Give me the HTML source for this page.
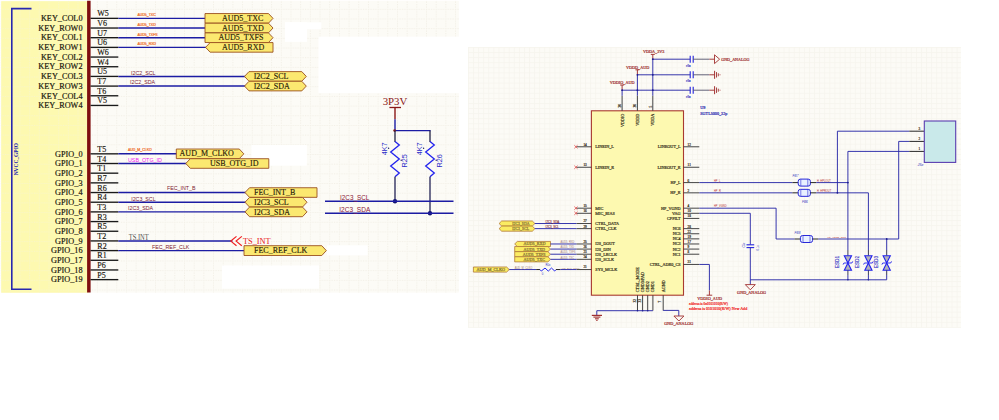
<!DOCTYPE html>
<html><head><meta charset="utf-8"><title>schematic</title>
<style>html,body{margin:0;padding:0;background:#fff;}body{width:999px;height:420px;overflow:hidden;font-family:"Liberation Sans",sans-serif;}svg{display:block;}text{white-space:pre;}</style>
</head><body>
<svg width="999" height="420" viewBox="0 0 999 420">
<rect x="0" y="0" width="999" height="420" fill="#ffffff"/>
<defs>
<pattern id="g1" x="0.1" y="8.8" width="9.68" height="9.68" patternUnits="userSpaceOnUse"><path d="M0 0.5H9.68M0.5 0V9.68" stroke="#F2EFE6" stroke-width="1" stroke-dasharray="1.2 1.2" fill="none"/></pattern>
<pattern id="g2" x="468" y="47" width="5.09" height="5.09" patternUnits="userSpaceOnUse"><path d="M0 0.5H5.09M0.5 0V5.09" stroke="#F7F4EE" stroke-width="0.8" fill="none"/></pattern>
</defs>
<rect x="0.80" y="0.80" width="458.00" height="291.80" fill="#FCFBF6" stroke="none" stroke-width="0"/>
<rect x="0.80" y="0.80" width="458.00" height="291.80" fill="url(#g1)" stroke="none" stroke-width="0"/>
<rect x="318.50" y="36.60" width="141.00" height="56.60" fill="#fff" stroke="none" stroke-width="0"/>
<rect x="285.00" y="22.30" width="36.30" height="7.00" fill="#fff" stroke="none" stroke-width="0"/>
<rect x="285.00" y="22.30" width="22.00" height="19.50" fill="#fff" stroke="none" stroke-width="0"/>
<rect x="251.40" y="145.10" width="55.40" height="13.80" fill="#fff" stroke="none" stroke-width="0"/>
<rect x="268.00" y="158.00" width="38.80" height="7.70" fill="#fff" stroke="none" stroke-width="0"/>
<rect x="327.00" y="245.30" width="40.60" height="10.00" fill="#fff" stroke="none" stroke-width="0"/>
<rect x="222.00" y="265.50" width="97.00" height="23.20" fill="#fff" stroke="none" stroke-width="0"/>
<rect x="468.00" y="47.00" width="493.00" height="280.80" fill="#FCFBF6" stroke="none" stroke-width="0"/>
<rect x="468.00" y="47.00" width="493.00" height="280.80" fill="url(#g2)" stroke="none" stroke-width="0"/>
<rect x="1.30" y="1.30" width="87.00" height="291.30" fill="#FDF9B0" stroke="none" stroke-width="0"/>
<rect x="1.30" y="1.30" width="87.00" height="291.30" fill="url(#g1)" stroke="none" stroke-width="0"/>
<rect x="1.3" y="1.3" width="87" height="291.3" fill="#FDF9B0" opacity="0.55"/>
<line x1="88.85" y1="0.80" x2="88.85" y2="292.60" stroke="#7E0F0F" stroke-width="3.5" />
<polyline points="31.5,8.6 11.8,8.6 11.8,289.3 31.5,289.3" fill="none" stroke="#2828B0" stroke-width="1.6"/>
<text x="17.60" y="175.30" font-family="Liberation Serif" font-size="5.8" fill="#2020B0" text-anchor="start" transform="rotate(-90 17.60 175.30)" textLength="32.30" lengthAdjust="spacingAndGlyphs" font-weight="bold">NVCC_GPIO</text>
<line x1="90.50" y1="18.35" x2="118.30" y2="18.35" stroke="#1a1a1a" stroke-width="1.35" />
<text x="82.50" y="21.10" font-family="Liberation Serif" font-size="8.22" fill="#17140a" text-anchor="end"  stroke="#17140a" stroke-width="0.18">KEY_COL0</text>
<text x="97.30" y="16.35" font-family="Liberation Serif" font-size="8.0" fill="#17140a" text-anchor="start"  stroke="#17140a" stroke-width="0.15">W5</text>
<line x1="90.50" y1="28.03" x2="118.30" y2="28.03" stroke="#1a1a1a" stroke-width="1.35" />
<text x="82.50" y="30.78" font-family="Liberation Serif" font-size="8.22" fill="#17140a" text-anchor="end"  stroke="#17140a" stroke-width="0.18">KEY_ROW0</text>
<text x="97.30" y="26.03" font-family="Liberation Serif" font-size="8.0" fill="#17140a" text-anchor="start"  stroke="#17140a" stroke-width="0.15">V6</text>
<line x1="90.50" y1="37.70" x2="118.30" y2="37.70" stroke="#1a1a1a" stroke-width="1.35" />
<text x="82.50" y="40.45" font-family="Liberation Serif" font-size="8.22" fill="#17140a" text-anchor="end"  stroke="#17140a" stroke-width="0.18">KEY_COL1</text>
<text x="97.30" y="35.70" font-family="Liberation Serif" font-size="8.0" fill="#17140a" text-anchor="start"  stroke="#17140a" stroke-width="0.15">U7</text>
<line x1="90.50" y1="47.38" x2="118.30" y2="47.38" stroke="#1a1a1a" stroke-width="1.35" />
<text x="82.50" y="50.13" font-family="Liberation Serif" font-size="8.22" fill="#17140a" text-anchor="end"  stroke="#17140a" stroke-width="0.18">KEY_ROW1</text>
<text x="97.30" y="45.38" font-family="Liberation Serif" font-size="8.0" fill="#17140a" text-anchor="start"  stroke="#17140a" stroke-width="0.15">U6</text>
<line x1="90.50" y1="57.06" x2="118.30" y2="57.06" stroke="#1a1a1a" stroke-width="1.35" />
<text x="82.50" y="59.81" font-family="Liberation Serif" font-size="8.22" fill="#17140a" text-anchor="end"  stroke="#17140a" stroke-width="0.18">KEY_COL2</text>
<text x="97.30" y="55.06" font-family="Liberation Serif" font-size="8.0" fill="#17140a" text-anchor="start"  stroke="#17140a" stroke-width="0.15">W6</text>
<line x1="90.50" y1="66.73" x2="118.30" y2="66.73" stroke="#1a1a1a" stroke-width="1.35" />
<text x="82.50" y="69.48" font-family="Liberation Serif" font-size="8.22" fill="#17140a" text-anchor="end"  stroke="#17140a" stroke-width="0.18">KEY_ROW2</text>
<text x="97.30" y="64.73" font-family="Liberation Serif" font-size="8.0" fill="#17140a" text-anchor="start"  stroke="#17140a" stroke-width="0.15">W4</text>
<line x1="90.50" y1="76.41" x2="118.30" y2="76.41" stroke="#1a1a1a" stroke-width="1.35" />
<text x="82.50" y="79.16" font-family="Liberation Serif" font-size="8.22" fill="#17140a" text-anchor="end"  stroke="#17140a" stroke-width="0.18">KEY_COL3</text>
<text x="97.30" y="74.41" font-family="Liberation Serif" font-size="8.0" fill="#17140a" text-anchor="start"  stroke="#17140a" stroke-width="0.15">U5</text>
<line x1="90.50" y1="86.09" x2="118.30" y2="86.09" stroke="#1a1a1a" stroke-width="1.35" />
<text x="82.50" y="88.84" font-family="Liberation Serif" font-size="8.22" fill="#17140a" text-anchor="end"  stroke="#17140a" stroke-width="0.18">KEY_ROW3</text>
<text x="97.30" y="84.09" font-family="Liberation Serif" font-size="8.0" fill="#17140a" text-anchor="start"  stroke="#17140a" stroke-width="0.15">T7</text>
<line x1="90.50" y1="95.77" x2="118.30" y2="95.77" stroke="#1a1a1a" stroke-width="1.35" />
<text x="82.50" y="98.52" font-family="Liberation Serif" font-size="8.22" fill="#17140a" text-anchor="end"  stroke="#17140a" stroke-width="0.18">KEY_COL4</text>
<text x="97.30" y="93.77" font-family="Liberation Serif" font-size="8.0" fill="#17140a" text-anchor="start"  stroke="#17140a" stroke-width="0.15">T6</text>
<line x1="90.50" y1="105.44" x2="118.30" y2="105.44" stroke="#1a1a1a" stroke-width="1.35" />
<text x="82.50" y="108.19" font-family="Liberation Serif" font-size="8.22" fill="#17140a" text-anchor="end"  stroke="#17140a" stroke-width="0.18">KEY_ROW4</text>
<text x="97.30" y="103.44" font-family="Liberation Serif" font-size="8.0" fill="#17140a" text-anchor="start"  stroke="#17140a" stroke-width="0.15">V5</text>
<line x1="90.50" y1="153.83" x2="118.30" y2="153.83" stroke="#1a1a1a" stroke-width="1.35" />
<text x="82.50" y="156.58" font-family="Liberation Serif" font-size="8.22" fill="#17140a" text-anchor="end"  stroke="#17140a" stroke-width="0.18">GPIO_0</text>
<text x="97.30" y="151.83" font-family="Liberation Serif" font-size="8.0" fill="#17140a" text-anchor="start"  stroke="#17140a" stroke-width="0.15">T5</text>
<line x1="90.50" y1="163.51" x2="118.30" y2="163.51" stroke="#1a1a1a" stroke-width="1.35" />
<text x="82.50" y="166.26" font-family="Liberation Serif" font-size="8.22" fill="#17140a" text-anchor="end"  stroke="#17140a" stroke-width="0.18">GPIO_1</text>
<text x="97.30" y="161.51" font-family="Liberation Serif" font-size="8.0" fill="#17140a" text-anchor="start"  stroke="#17140a" stroke-width="0.15">T4</text>
<line x1="90.50" y1="173.18" x2="118.30" y2="173.18" stroke="#1a1a1a" stroke-width="1.35" />
<text x="82.50" y="175.93" font-family="Liberation Serif" font-size="8.22" fill="#17140a" text-anchor="end"  stroke="#17140a" stroke-width="0.18">GPIO_2</text>
<text x="97.30" y="171.18" font-family="Liberation Serif" font-size="8.0" fill="#17140a" text-anchor="start"  stroke="#17140a" stroke-width="0.15">T1</text>
<line x1="90.50" y1="182.86" x2="118.30" y2="182.86" stroke="#1a1a1a" stroke-width="1.35" />
<text x="82.50" y="185.61" font-family="Liberation Serif" font-size="8.22" fill="#17140a" text-anchor="end"  stroke="#17140a" stroke-width="0.18">GPIO_3</text>
<text x="97.30" y="180.86" font-family="Liberation Serif" font-size="8.0" fill="#17140a" text-anchor="start"  stroke="#17140a" stroke-width="0.15">R7</text>
<line x1="90.50" y1="192.54" x2="118.30" y2="192.54" stroke="#1a1a1a" stroke-width="1.35" />
<text x="82.50" y="195.29" font-family="Liberation Serif" font-size="8.22" fill="#17140a" text-anchor="end"  stroke="#17140a" stroke-width="0.18">GPIO_4</text>
<text x="97.30" y="190.54" font-family="Liberation Serif" font-size="8.0" fill="#17140a" text-anchor="start"  stroke="#17140a" stroke-width="0.15">R6</text>
<line x1="90.50" y1="202.22" x2="118.30" y2="202.22" stroke="#1a1a1a" stroke-width="1.35" />
<text x="82.50" y="204.97" font-family="Liberation Serif" font-size="8.22" fill="#17140a" text-anchor="end"  stroke="#17140a" stroke-width="0.18">GPIO_5</text>
<text x="97.30" y="200.22" font-family="Liberation Serif" font-size="8.0" fill="#17140a" text-anchor="start"  stroke="#17140a" stroke-width="0.15">R4</text>
<line x1="90.50" y1="211.89" x2="118.30" y2="211.89" stroke="#1a1a1a" stroke-width="1.35" />
<text x="82.50" y="214.64" font-family="Liberation Serif" font-size="8.22" fill="#17140a" text-anchor="end"  stroke="#17140a" stroke-width="0.18">GPIO_6</text>
<text x="97.30" y="209.89" font-family="Liberation Serif" font-size="8.0" fill="#17140a" text-anchor="start"  stroke="#17140a" stroke-width="0.15">T3</text>
<line x1="90.50" y1="221.57" x2="118.30" y2="221.57" stroke="#1a1a1a" stroke-width="1.35" />
<text x="82.50" y="224.32" font-family="Liberation Serif" font-size="8.22" fill="#17140a" text-anchor="end"  stroke="#17140a" stroke-width="0.18">GPIO_7</text>
<text x="97.30" y="219.57" font-family="Liberation Serif" font-size="8.0" fill="#17140a" text-anchor="start"  stroke="#17140a" stroke-width="0.15">R3</text>
<line x1="90.50" y1="231.25" x2="118.30" y2="231.25" stroke="#1a1a1a" stroke-width="1.35" />
<text x="82.50" y="234.00" font-family="Liberation Serif" font-size="8.22" fill="#17140a" text-anchor="end"  stroke="#17140a" stroke-width="0.18">GPIO_8</text>
<text x="97.30" y="229.25" font-family="Liberation Serif" font-size="8.0" fill="#17140a" text-anchor="start"  stroke="#17140a" stroke-width="0.15">R5</text>
<line x1="90.50" y1="240.92" x2="118.30" y2="240.92" stroke="#1a1a1a" stroke-width="1.35" />
<text x="82.50" y="243.67" font-family="Liberation Serif" font-size="8.22" fill="#17140a" text-anchor="end"  stroke="#17140a" stroke-width="0.18">GPIO_9</text>
<text x="97.30" y="238.92" font-family="Liberation Serif" font-size="8.0" fill="#17140a" text-anchor="start"  stroke="#17140a" stroke-width="0.15">T2</text>
<line x1="90.50" y1="250.60" x2="118.30" y2="250.60" stroke="#1a1a1a" stroke-width="1.35" />
<text x="82.50" y="253.35" font-family="Liberation Serif" font-size="8.22" fill="#17140a" text-anchor="end"  stroke="#17140a" stroke-width="0.18">GPIO_16</text>
<text x="97.30" y="248.60" font-family="Liberation Serif" font-size="8.0" fill="#17140a" text-anchor="start"  stroke="#17140a" stroke-width="0.15">R2</text>
<line x1="90.50" y1="260.28" x2="118.30" y2="260.28" stroke="#1a1a1a" stroke-width="1.35" />
<text x="82.50" y="263.03" font-family="Liberation Serif" font-size="8.22" fill="#17140a" text-anchor="end"  stroke="#17140a" stroke-width="0.18">GPIO_17</text>
<text x="97.30" y="258.28" font-family="Liberation Serif" font-size="8.0" fill="#17140a" text-anchor="start"  stroke="#17140a" stroke-width="0.15">R1</text>
<line x1="90.50" y1="269.95" x2="118.30" y2="269.95" stroke="#1a1a1a" stroke-width="1.35" />
<text x="82.50" y="272.70" font-family="Liberation Serif" font-size="8.22" fill="#17140a" text-anchor="end"  stroke="#17140a" stroke-width="0.18">GPIO_18</text>
<text x="97.30" y="267.95" font-family="Liberation Serif" font-size="8.0" fill="#17140a" text-anchor="start"  stroke="#17140a" stroke-width="0.15">P6</text>
<line x1="90.50" y1="279.63" x2="118.30" y2="279.63" stroke="#1a1a1a" stroke-width="1.35" />
<text x="82.50" y="282.38" font-family="Liberation Serif" font-size="8.22" fill="#17140a" text-anchor="end"  stroke="#17140a" stroke-width="0.18">GPIO_19</text>
<text x="97.30" y="277.63" font-family="Liberation Serif" font-size="8.0" fill="#17140a" text-anchor="start"  stroke="#17140a" stroke-width="0.15">P5</text>
<line x1="118.30" y1="18.35" x2="206.00" y2="18.35" stroke="#1C1CA4" stroke-width="1.45" />
<line x1="118.30" y1="28.03" x2="206.00" y2="28.03" stroke="#1C1CA4" stroke-width="1.45" />
<line x1="118.30" y1="37.70" x2="206.00" y2="37.70" stroke="#1C1CA4" stroke-width="1.45" />
<line x1="118.30" y1="47.38" x2="206.00" y2="47.38" stroke="#1C1CA4" stroke-width="1.45" />
<line x1="118.30" y1="76.41" x2="246.00" y2="76.41" stroke="#1C1CA4" stroke-width="1.45" />
<line x1="118.30" y1="86.09" x2="246.00" y2="86.09" stroke="#1C1CA4" stroke-width="1.45" />
<line x1="118.30" y1="153.83" x2="177.00" y2="153.83" stroke="#1C1CA4" stroke-width="1.45" />
<line x1="118.30" y1="163.51" x2="187.00" y2="163.51" stroke="#1C1CA4" stroke-width="1.45" />
<line x1="118.30" y1="192.54" x2="246.00" y2="192.54" stroke="#1C1CA4" stroke-width="1.45" />
<line x1="118.30" y1="202.22" x2="246.00" y2="202.22" stroke="#1C1CA4" stroke-width="1.45" />
<line x1="118.30" y1="211.89" x2="246.00" y2="211.89" stroke="#1C1CA4" stroke-width="1.45" />
<line x1="118.30" y1="240.92" x2="232.50" y2="240.92" stroke="#1C1CA4" stroke-width="1.45" />
<line x1="118.30" y1="250.60" x2="245.00" y2="250.60" stroke="#1C1CA4" stroke-width="1.45" />
<polygon points="205.00,13.55 268.50,13.55 273.00,18.35 268.50,23.15 205.00,23.15" fill="#FBE870" stroke="#9A5020" stroke-width="0.9" stroke-linejoin="miter"/>
<text x="222.00" y="20.99" font-family="Liberation Serif" font-size="8" fill="#2a1c08" text-anchor="start"  stroke="#2a1c08" stroke-width="0.15">AUD5_TXC</text>
<polygon points="205.00,23.23 268.50,23.23 273.00,28.03 268.50,32.83 205.00,32.83" fill="#FBE870" stroke="#9A5020" stroke-width="0.9" stroke-linejoin="miter"/>
<text x="222.00" y="30.67" font-family="Liberation Serif" font-size="8" fill="#2a1c08" text-anchor="start"  stroke="#2a1c08" stroke-width="0.15">AUD5_TXD</text>
<polygon points="205.00,32.90 268.50,32.90 273.00,37.70 268.50,42.50 205.00,42.50" fill="#FBE870" stroke="#9A5020" stroke-width="0.9" stroke-linejoin="miter"/>
<text x="218.50" y="40.34" font-family="Liberation Serif" font-size="8" fill="#2a1c08" text-anchor="start"  stroke="#2a1c08" stroke-width="0.15">AUD5_TXFS</text>
<polygon points="205.60,47.38 210.10,42.58 273.00,42.58 273.00,52.18 210.10,52.18" fill="#FBE870" stroke="#9A5020" stroke-width="0.9" stroke-linejoin="miter"/>
<text x="222.00" y="50.02" font-family="Liberation Serif" font-size="8" fill="#2a1c08" text-anchor="start"  stroke="#2a1c08" stroke-width="0.15">AUD5_RXD</text>
<polygon points="244.50,76.41 249.00,71.61 301.80,71.61 306.30,76.41 301.80,81.21 249.00,81.21" fill="#FBE870" stroke="#9A5020" stroke-width="0.9" stroke-linejoin="miter"/>
<text x="253.70" y="79.05" font-family="Liberation Serif" font-size="8" fill="#2a1c08" text-anchor="start"  stroke="#2a1c08" stroke-width="0.15">I2C2_SCL</text>
<polygon points="244.50,86.09 249.00,81.29 301.80,81.29 306.30,86.09 301.80,90.89 249.00,90.89" fill="#FBE870" stroke="#9A5020" stroke-width="0.9" stroke-linejoin="miter"/>
<text x="253.70" y="88.73" font-family="Liberation Serif" font-size="8" fill="#2a1c08" text-anchor="start"  stroke="#2a1c08" stroke-width="0.15">I2C2_SDA</text>
<polygon points="176.30,149.03 239.30,149.03 243.80,153.83 239.30,158.63 176.30,158.63" fill="#FBE870" stroke="#9A5020" stroke-width="0.9" stroke-linejoin="miter"/>
<text x="179.60" y="156.47" font-family="Liberation Serif" font-size="8" fill="#2a1c08" text-anchor="start"  stroke="#2a1c08" stroke-width="0.15">AUD_M_CLKO</text>
<polygon points="185.80,163.51 190.30,158.71 268.80,158.71 268.80,168.31 190.30,168.31" fill="#FBE870" stroke="#9A5020" stroke-width="0.9" stroke-linejoin="miter"/>
<text x="210.00" y="166.15" font-family="Liberation Serif" font-size="8" fill="#2a1c08" text-anchor="start"  stroke="#2a1c08" stroke-width="0.15">USB_OTG_ID</text>
<polygon points="245.00,192.54 249.50,187.74 317.00,187.74 317.00,197.34 249.50,197.34" fill="#FBE870" stroke="#9A5020" stroke-width="0.9" stroke-linejoin="miter"/>
<text x="254.00" y="195.18" font-family="Liberation Serif" font-size="8" fill="#2a1c08" text-anchor="start"  stroke="#2a1c08" stroke-width="0.15">FEC_INT_B</text>
<polygon points="245.00,202.22 249.50,197.41 302.50,197.41 307.00,202.22 302.50,207.02 249.50,207.02" fill="#FBE870" stroke="#9A5020" stroke-width="0.9" stroke-linejoin="miter"/>
<text x="254.00" y="204.85" font-family="Liberation Serif" font-size="8" fill="#2a1c08" text-anchor="start"  stroke="#2a1c08" stroke-width="0.15">I2C3_SCL</text>
<polygon points="245.00,211.89 249.50,207.09 302.50,207.09 307.00,211.89 302.50,216.69 249.50,216.69" fill="#FBE870" stroke="#9A5020" stroke-width="0.9" stroke-linejoin="miter"/>
<text x="254.00" y="214.53" font-family="Liberation Serif" font-size="8" fill="#2a1c08" text-anchor="start"  stroke="#2a1c08" stroke-width="0.15">I2C3_SDA</text>
<polygon points="244.00,245.70 321.80,245.70 326.30,250.60 321.80,255.50 244.00,255.50" fill="#FBE870" stroke="#9A5020" stroke-width="0.9" stroke-linejoin="miter"/>
<text x="254.00" y="253.24" font-family="Liberation Serif" font-size="8" fill="#2a1c08" text-anchor="start"  stroke="#2a1c08" stroke-width="0.15">FEC_REF_CLK</text>
<text x="137.40" y="16.15" font-family="Liberation Sans" font-size="3.5" fill="#EE6820" text-anchor="start"  stroke="#EE6820" stroke-width="0.18">AUD5_TXC</text>
<text x="137.40" y="25.83" font-family="Liberation Sans" font-size="3.5" fill="#EE6820" text-anchor="start"  stroke="#EE6820" stroke-width="0.18">AUD5_TXD</text>
<text x="137.40" y="35.50" font-family="Liberation Sans" font-size="3.5" fill="#EE6820" text-anchor="start"  stroke="#EE6820" stroke-width="0.18">AUD5_TXFS</text>
<text x="137.40" y="45.18" font-family="Liberation Sans" font-size="3.5" fill="#EE6820" text-anchor="start"  stroke="#EE6820" stroke-width="0.18">AUD5_RXD</text>
<text x="131.00" y="75.21" font-family="Liberation Sans" font-size="5.3" fill="#7E1A30" text-anchor="start" >I2C2_SCL</text>
<text x="130.00" y="84.49" font-family="Liberation Sans" font-size="5.3" fill="#7E1A30" text-anchor="start" >I2C2_SDA</text>
<text x="128.00" y="151.43" font-family="Liberation Sans" font-size="3.5" fill="#EE6820" text-anchor="start"  stroke="#EE6820" stroke-width="0.18">AUD_M_CLKO</text>
<text x="128.00" y="161.91" font-family="Liberation Sans" font-size="5.35" fill="#F020F0" text-anchor="start" >USB_OTG_ID</text>
<text x="167.00" y="190.44" font-family="Liberation Sans" font-size="5.3" fill="#7E1A30" text-anchor="start" >FEC_INT_B</text>
<text x="131.20" y="201.02" font-family="Liberation Sans" font-size="5.3" fill="#7E1A30" text-anchor="start" >I2C3_SCL</text>
<text x="128.00" y="210.29" font-family="Liberation Sans" font-size="5.3" fill="#7E1A30" text-anchor="start" >I2C3_SDA</text>
<text x="152.00" y="248.60" font-family="Liberation Sans" font-size="5.3" fill="#7E1A30" text-anchor="start" >FEC_REF_CLK</text>
<text x="128.70" y="239.50" font-family="Liberation Serif" font-size="8.6" fill="#505050" text-anchor="start" textLength="20.00" lengthAdjust="spacingAndGlyphs" >TS.INT</text>
<polyline points="236.5,236.4 230.8,241.1 236.5,245.8" fill="none" stroke="#F02020" stroke-width="1.2"/>
<polyline points="241.8,236.4 236.1,241.1 241.8,245.8" fill="none" stroke="#F02020" stroke-width="1.2"/>
<text x="243.00" y="244.30" font-family="Liberation Serif" font-size="8.3" fill="#E81818" text-anchor="start" >TS_INT</text>
<text x="382.70" y="104.60" font-family="Liberation Serif" font-size="10.8" fill="#8A1818" text-anchor="start" >3P3V</text>
<line x1="389.40" y1="107.50" x2="401.00" y2="107.50" stroke="#8A1818" stroke-width="1.3" />
<line x1="395.00" y1="107.50" x2="395.00" y2="119.20" stroke="#8A1818" stroke-width="1.4" />
<line x1="395.00" y1="119.20" x2="395.00" y2="130.60" stroke="#1C1CA4" stroke-width="1.4" />
<line x1="394.60" y1="130.60" x2="430.60" y2="130.60" stroke="#1C1CA4" stroke-width="1.4" />
<circle cx="394.60" cy="130.60" r="1.3" fill="#8A1818"/>
<line x1="395.00" y1="130.60" x2="395.00" y2="142.00" stroke="#222244" stroke-width="1.3" />
<polyline points="395,141.5 399.3,145 390.7,152 399.3,159 390.7,166 399.3,173 395,176.8" fill="none" stroke="#2222EE" stroke-width="1.3"/>
<line x1="395.00" y1="176.80" x2="395.00" y2="201.20" stroke="#222255" stroke-width="1.3" />
<circle cx="395.00" cy="201.20" r="2.2" fill="#141470"/>
<line x1="430.00" y1="130.60" x2="430.00" y2="142.00" stroke="#222244" stroke-width="1.3" />
<polyline points="430,141.5 434.3,145 425.7,152 434.3,159 425.7,166 434.3,173 430,176.8" fill="none" stroke="#2222EE" stroke-width="1.3"/>
<line x1="430.00" y1="176.80" x2="430.00" y2="213.30" stroke="#222255" stroke-width="1.3" />
<circle cx="430.00" cy="213.30" r="2.2" fill="#141470"/>
<line x1="325.00" y1="201.20" x2="453.50" y2="201.20" stroke="#1C1CA4" stroke-width="1.45" />
<line x1="325.00" y1="213.30" x2="453.50" y2="213.30" stroke="#1C1CA4" stroke-width="1.45" />
<text x="340.00" y="199.60" font-family="Liberation Sans" font-size="6.3" fill="#8A2038" text-anchor="start" textLength="29.30" lengthAdjust="spacingAndGlyphs" >I2C3_SCL</text>
<text x="339.30" y="211.50" font-family="Liberation Sans" font-size="6.3" fill="#8A2038" text-anchor="start" textLength="31.00" lengthAdjust="spacingAndGlyphs" >I2C3_SDA</text>
<text x="387.20" y="155.30" font-family="Liberation Sans" font-size="7.3" fill="#2A2AC8" text-anchor="start" transform="rotate(-90 387.20 155.30)" >4K7</text>
<text x="406.80" y="167.60" font-family="Liberation Sans" font-size="7.3" fill="#2A2AC8" text-anchor="start" transform="rotate(-90 406.80 167.60)" >R25</text>
<text x="422.20" y="155.30" font-family="Liberation Sans" font-size="7.3" fill="#2A2AC8" text-anchor="start" transform="rotate(-90 422.20 155.30)" >4K7</text>
<text x="441.80" y="167.60" font-family="Liberation Sans" font-size="7.3" fill="#2A2AC8" text-anchor="start" transform="rotate(-90 441.80 167.60)" >R26</text>
<circle cx="388.60" cy="148.20" r="0.7" fill="#202060"/>
<circle cx="401.20" cy="160.20" r="0.7" fill="#202060"/>
<circle cx="423.60" cy="148.20" r="0.7" fill="#202060"/>
<circle cx="436.20" cy="160.20" r="0.7" fill="#202060"/>
<rect x="591.40" y="110.80" width="92.10" height="184.40" fill="#FDF9B0" stroke="#A83A30" stroke-width="1.1"/>
<line x1="576.50" y1="146.79" x2="591.40" y2="146.79" stroke="#3a3a3a" stroke-width="0.95" />
<text x="595.30" y="148.24" font-family="Liberation Serif" font-size="4.2" fill="#3a3420" text-anchor="start"  stroke="#3a3420" stroke-width="0.2">LINEIN_L</text>
<text x="583.40" y="145.69" font-family="Liberation Serif" font-size="3.4" fill="#3a3420" text-anchor="start"  stroke="#3a3420" stroke-width="0.2">14</text>
<line x1="576.50" y1="167.25" x2="591.40" y2="167.25" stroke="#3a3a3a" stroke-width="0.95" />
<text x="595.30" y="168.70" font-family="Liberation Serif" font-size="4.2" fill="#3a3420" text-anchor="start"  stroke="#3a3420" stroke-width="0.2">LINEIN_R</text>
<text x="583.40" y="166.16" font-family="Liberation Serif" font-size="3.4" fill="#3a3420" text-anchor="start"  stroke="#3a3420" stroke-width="0.2">13</text>
<line x1="576.50" y1="208.18" x2="591.40" y2="208.18" stroke="#3a3a3a" stroke-width="0.95" />
<text x="595.30" y="209.62" font-family="Liberation Serif" font-size="4.2" fill="#3a3420" text-anchor="start"  stroke="#3a3420" stroke-width="0.2">MIC</text>
<text x="583.40" y="207.08" font-family="Liberation Serif" font-size="3.4" fill="#3a3420" text-anchor="start"  stroke="#3a3420" stroke-width="0.2">15</text>
<line x1="576.50" y1="213.29" x2="591.40" y2="213.29" stroke="#3a3a3a" stroke-width="0.95" />
<text x="595.30" y="214.74" font-family="Liberation Serif" font-size="4.2" fill="#3a3420" text-anchor="start"  stroke="#3a3420" stroke-width="0.2">MIC_BIAS</text>
<text x="583.40" y="212.19" font-family="Liberation Serif" font-size="3.4" fill="#3a3420" text-anchor="start"  stroke="#3a3420" stroke-width="0.2">16</text>
<line x1="576.50" y1="223.52" x2="591.40" y2="223.52" stroke="#3a3a3a" stroke-width="0.95" />
<text x="595.30" y="224.97" font-family="Liberation Serif" font-size="4.2" fill="#3a3420" text-anchor="start"  stroke="#3a3420" stroke-width="0.2">CTRL_DATA</text>
<text x="583.40" y="222.42" font-family="Liberation Serif" font-size="3.4" fill="#3a3420" text-anchor="start"  stroke="#3a3420" stroke-width="0.2">27</text>
<line x1="576.50" y1="228.63" x2="591.40" y2="228.63" stroke="#3a3a3a" stroke-width="0.95" />
<text x="595.30" y="230.08" font-family="Liberation Serif" font-size="4.2" fill="#3a3420" text-anchor="start"  stroke="#3a3420" stroke-width="0.2">CTRL_CLK</text>
<text x="583.40" y="227.53" font-family="Liberation Serif" font-size="3.4" fill="#3a3420" text-anchor="start"  stroke="#3a3420" stroke-width="0.2">29</text>
<line x1="576.50" y1="243.98" x2="591.40" y2="243.98" stroke="#3a3a3a" stroke-width="0.95" />
<text x="595.30" y="245.43" font-family="Liberation Serif" font-size="4.2" fill="#3a3420" text-anchor="start"  stroke="#3a3420" stroke-width="0.2">I2S_DOUT</text>
<text x="583.40" y="242.88" font-family="Liberation Serif" font-size="3.4" fill="#3a3420" text-anchor="start"  stroke="#3a3420" stroke-width="0.2">25</text>
<line x1="576.50" y1="249.09" x2="591.40" y2="249.09" stroke="#3a3a3a" stroke-width="0.95" />
<text x="595.30" y="250.54" font-family="Liberation Serif" font-size="4.2" fill="#3a3420" text-anchor="start"  stroke="#3a3420" stroke-width="0.2">I2S_DIN</text>
<text x="583.40" y="248.00" font-family="Liberation Serif" font-size="3.4" fill="#3a3420" text-anchor="start"  stroke="#3a3420" stroke-width="0.2">26</text>
<line x1="576.50" y1="254.21" x2="591.40" y2="254.21" stroke="#3a3a3a" stroke-width="0.95" />
<text x="595.30" y="255.66" font-family="Liberation Serif" font-size="4.2" fill="#3a3420" text-anchor="start"  stroke="#3a3420" stroke-width="0.2">I2S_LRCLK</text>
<text x="583.40" y="253.11" font-family="Liberation Serif" font-size="3.4" fill="#3a3420" text-anchor="start"  stroke="#3a3420" stroke-width="0.2">23</text>
<line x1="576.50" y1="259.32" x2="591.40" y2="259.32" stroke="#3a3a3a" stroke-width="0.95" />
<text x="595.30" y="260.77" font-family="Liberation Serif" font-size="4.2" fill="#3a3420" text-anchor="start"  stroke="#3a3420" stroke-width="0.2">I2S_SCLK</text>
<text x="583.40" y="258.22" font-family="Liberation Serif" font-size="3.4" fill="#3a3420" text-anchor="start"  stroke="#3a3420" stroke-width="0.2">24</text>
<line x1="576.50" y1="269.56" x2="591.40" y2="269.56" stroke="#3a3a3a" stroke-width="0.95" />
<text x="595.30" y="271.00" font-family="Liberation Serif" font-size="4.2" fill="#3a3420" text-anchor="start"  stroke="#3a3420" stroke-width="0.2">SYS_MCLK</text>
<text x="583.40" y="268.45" font-family="Liberation Serif" font-size="3.4" fill="#3a3420" text-anchor="start"  stroke="#3a3420" stroke-width="0.2">21</text>
<line x1="683.50" y1="146.79" x2="699.30" y2="146.79" stroke="#3a3a3a" stroke-width="0.95" />
<text x="680.60" y="148.24" font-family="Liberation Serif" font-size="4.2" fill="#3a3420" text-anchor="end"  stroke="#3a3420" stroke-width="0.2">LINEOUT_L</text>
<text x="687.60" y="145.69" font-family="Liberation Serif" font-size="3.4" fill="#3a3420" text-anchor="start"  stroke="#3a3420" stroke-width="0.2">12</text>
<line x1="683.50" y1="167.25" x2="699.30" y2="167.25" stroke="#3a3a3a" stroke-width="0.95" />
<text x="680.60" y="168.70" font-family="Liberation Serif" font-size="4.2" fill="#3a3420" text-anchor="end"  stroke="#3a3420" stroke-width="0.2">LINEOUT_R</text>
<text x="687.60" y="166.16" font-family="Liberation Serif" font-size="3.4" fill="#3a3420" text-anchor="start"  stroke="#3a3420" stroke-width="0.2">11</text>
<line x1="683.50" y1="182.60" x2="699.30" y2="182.60" stroke="#3a3a3a" stroke-width="0.95" />
<text x="680.60" y="184.05" font-family="Liberation Serif" font-size="4.2" fill="#3a3420" text-anchor="end"  stroke="#3a3420" stroke-width="0.2">HP_L</text>
<text x="687.60" y="181.50" font-family="Liberation Serif" font-size="3.4" fill="#3a3420" text-anchor="start"  stroke="#3a3420" stroke-width="0.2">6</text>
<line x1="683.50" y1="192.83" x2="699.30" y2="192.83" stroke="#3a3a3a" stroke-width="0.95" />
<text x="680.60" y="194.28" font-family="Liberation Serif" font-size="4.2" fill="#3a3420" text-anchor="end"  stroke="#3a3420" stroke-width="0.2">HP_R</text>
<text x="687.60" y="191.73" font-family="Liberation Serif" font-size="3.4" fill="#3a3420" text-anchor="start"  stroke="#3a3420" stroke-width="0.2">2</text>
<line x1="683.50" y1="208.18" x2="699.30" y2="208.18" stroke="#3a3a3a" stroke-width="0.95" />
<text x="680.60" y="209.62" font-family="Liberation Serif" font-size="4.2" fill="#3a3420" text-anchor="end"  stroke="#3a3420" stroke-width="0.2">HP_VGND</text>
<text x="687.60" y="207.08" font-family="Liberation Serif" font-size="3.4" fill="#3a3420" text-anchor="start"  stroke="#3a3420" stroke-width="0.2">4</text>
<line x1="683.50" y1="213.29" x2="699.30" y2="213.29" stroke="#3a3a3a" stroke-width="0.95" />
<text x="680.60" y="214.74" font-family="Liberation Serif" font-size="4.2" fill="#3a3420" text-anchor="end"  stroke="#3a3420" stroke-width="0.2">VAG</text>
<text x="687.60" y="212.19" font-family="Liberation Serif" font-size="3.4" fill="#3a3420" text-anchor="start"  stroke="#3a3420" stroke-width="0.2">10</text>
<line x1="683.50" y1="218.41" x2="699.30" y2="218.41" stroke="#3a3a3a" stroke-width="0.95" />
<text x="680.60" y="219.85" font-family="Liberation Serif" font-size="4.2" fill="#3a3420" text-anchor="end"  stroke="#3a3420" stroke-width="0.2">CPFILT</text>
<text x="687.60" y="217.31" font-family="Liberation Serif" font-size="3.4" fill="#3a3420" text-anchor="start"  stroke="#3a3420" stroke-width="0.2">18</text>
<line x1="683.50" y1="228.63" x2="699.30" y2="228.63" stroke="#3a3a3a" stroke-width="0.95" />
<text x="680.60" y="230.08" font-family="Liberation Serif" font-size="4.2" fill="#3a3420" text-anchor="end"  stroke="#3a3420" stroke-width="0.2">NC6</text>
<text x="687.60" y="227.53" font-family="Liberation Serif" font-size="3.4" fill="#3a3420" text-anchor="start"  stroke="#3a3420" stroke-width="0.2">28</text>
<line x1="683.50" y1="233.75" x2="699.30" y2="233.75" stroke="#3a3a3a" stroke-width="0.95" />
<text x="680.60" y="235.20" font-family="Liberation Serif" font-size="4.2" fill="#3a3420" text-anchor="end"  stroke="#3a3420" stroke-width="0.2">NC5</text>
<text x="687.60" y="232.65" font-family="Liberation Serif" font-size="3.4" fill="#3a3420" text-anchor="start"  stroke="#3a3420" stroke-width="0.2">22</text>
<line x1="683.50" y1="238.87" x2="699.30" y2="238.87" stroke="#3a3a3a" stroke-width="0.95" />
<text x="680.60" y="240.31" font-family="Liberation Serif" font-size="4.2" fill="#3a3420" text-anchor="end"  stroke="#3a3420" stroke-width="0.2">NC4</text>
<text x="687.60" y="237.77" font-family="Liberation Serif" font-size="3.4" fill="#3a3420" text-anchor="start"  stroke="#3a3420" stroke-width="0.2">19</text>
<line x1="683.50" y1="243.98" x2="699.30" y2="243.98" stroke="#3a3a3a" stroke-width="0.95" />
<text x="680.60" y="245.43" font-family="Liberation Serif" font-size="4.2" fill="#3a3420" text-anchor="end"  stroke="#3a3420" stroke-width="0.2">NC3</text>
<text x="687.60" y="242.88" font-family="Liberation Serif" font-size="3.4" fill="#3a3420" text-anchor="start"  stroke="#3a3420" stroke-width="0.2">17</text>
<line x1="683.50" y1="249.09" x2="699.30" y2="249.09" stroke="#3a3a3a" stroke-width="0.95" />
<text x="680.60" y="250.54" font-family="Liberation Serif" font-size="4.2" fill="#3a3420" text-anchor="end"  stroke="#3a3420" stroke-width="0.2">NC2</text>
<text x="687.60" y="248.00" font-family="Liberation Serif" font-size="3.4" fill="#3a3420" text-anchor="start"  stroke="#3a3420" stroke-width="0.2">9</text>
<line x1="683.50" y1="254.21" x2="699.30" y2="254.21" stroke="#3a3a3a" stroke-width="0.95" />
<text x="680.60" y="255.66" font-family="Liberation Serif" font-size="4.2" fill="#3a3420" text-anchor="end"  stroke="#3a3420" stroke-width="0.2">NC1</text>
<text x="687.60" y="253.11" font-family="Liberation Serif" font-size="3.4" fill="#3a3420" text-anchor="start"  stroke="#3a3420" stroke-width="0.2">8</text>
<line x1="683.50" y1="264.44" x2="699.30" y2="264.44" stroke="#3a3a3a" stroke-width="0.95" />
<text x="680.60" y="265.89" font-family="Liberation Serif" font-size="4.2" fill="#3a3420" text-anchor="end"  stroke="#3a3420" stroke-width="0.2">CTRL_ADR0_CS</text>
<text x="687.60" y="263.34" font-family="Liberation Serif" font-size="3.4" fill="#3a3420" text-anchor="start"  stroke="#3a3420" stroke-width="0.2">31</text>
<line x1="574.30" y1="145.19" x2="577.50" y2="148.39" stroke="#E03030" stroke-width="0.7" />
<line x1="574.30" y1="148.39" x2="577.50" y2="145.19" stroke="#E03030" stroke-width="0.7" />
<line x1="574.30" y1="165.66" x2="577.50" y2="168.85" stroke="#E03030" stroke-width="0.7" />
<line x1="574.30" y1="168.85" x2="577.50" y2="165.66" stroke="#E03030" stroke-width="0.7" />
<line x1="574.30" y1="206.58" x2="577.50" y2="209.78" stroke="#E03030" stroke-width="0.7" />
<line x1="574.30" y1="209.78" x2="577.50" y2="206.58" stroke="#E03030" stroke-width="0.7" />
<line x1="574.30" y1="211.69" x2="577.50" y2="214.89" stroke="#E03030" stroke-width="0.7" />
<line x1="574.30" y1="214.89" x2="577.50" y2="211.69" stroke="#E03030" stroke-width="0.7" />
<line x1="622.10" y1="110.80" x2="622.10" y2="95.70" stroke="#3a3a3a" stroke-width="0.95" />
<line x1="622.10" y1="95.70" x2="622.10" y2="90.20" stroke="#2A2AA8" stroke-width="0.95" />
<line x1="622.10" y1="90.20" x2="622.10" y2="85.00" stroke="#A03030" stroke-width="0.95" />
<line x1="620.10" y1="85.00" x2="624.10" y2="85.00" stroke="#A03030" stroke-width="0.95" />
<text x="609.80" y="84.00" font-family="Liberation Serif" font-size="4.2" fill="#A03030" text-anchor="start"  stroke="#A03030" stroke-width="0.2">VDDIO_AUD</text>
<text x="623.60" y="113.60" font-family="Liberation Serif" font-size="4.2" fill="#3a3420" text-anchor="end" transform="rotate(-90 623.60 113.60)"  stroke="#3a3420" stroke-width="0.2">VDDIO</text>
<text x="620.80" y="107.50" font-family="Liberation Serif" font-size="3.4" fill="#3a3420" text-anchor="start" transform="rotate(-90 620.80 107.50)"  stroke="#3a3420" stroke-width="0.2">20</text>
<line x1="622.10" y1="90.20" x2="690.20" y2="90.20" stroke="#2A2AA8" stroke-width="0.95" />
<line x1="690.20" y1="86.70" x2="690.20" y2="93.70" stroke="#2222DD" stroke-width="1.1" />
<line x1="693.20" y1="86.70" x2="693.20" y2="93.70" stroke="#2222DD" stroke-width="1.1" />
<line x1="693.20" y1="90.20" x2="709.40" y2="90.20" stroke="#50506a" stroke-width="0.9" />
<line x1="709.40" y1="90.20" x2="714.50" y2="90.20" stroke="#A03030" stroke-width="0.95" />
<text x="686.00" y="97.60" font-family="Liberation Serif" font-size="3.2" fill="#3030C0" text-anchor="start"  stroke="#3030C0" stroke-width="0.15">c5x</text>
<line x1="637.40" y1="110.80" x2="637.40" y2="95.70" stroke="#3a3a3a" stroke-width="0.95" />
<line x1="637.40" y1="95.70" x2="637.40" y2="74.80" stroke="#2A2AA8" stroke-width="0.95" />
<line x1="637.40" y1="74.80" x2="637.40" y2="69.80" stroke="#A03030" stroke-width="0.95" />
<line x1="635.40" y1="69.80" x2="639.40" y2="69.80" stroke="#A03030" stroke-width="0.95" />
<text x="626.00" y="68.80" font-family="Liberation Serif" font-size="4.2" fill="#A03030" text-anchor="start"  stroke="#A03030" stroke-width="0.2">VDDD_AUD</text>
<text x="638.90" y="113.60" font-family="Liberation Serif" font-size="4.2" fill="#3a3420" text-anchor="end" transform="rotate(-90 638.90 113.60)"  stroke="#3a3420" stroke-width="0.2">VDDD</text>
<text x="636.10" y="107.50" font-family="Liberation Serif" font-size="3.4" fill="#3a3420" text-anchor="start" transform="rotate(-90 636.10 107.50)"  stroke="#3a3420" stroke-width="0.2">30</text>
<line x1="637.40" y1="74.80" x2="690.20" y2="74.80" stroke="#2A2AA8" stroke-width="0.95" />
<line x1="690.20" y1="71.30" x2="690.20" y2="78.30" stroke="#2222DD" stroke-width="1.1" />
<line x1="693.20" y1="71.30" x2="693.20" y2="78.30" stroke="#2222DD" stroke-width="1.1" />
<line x1="693.20" y1="74.80" x2="709.40" y2="74.80" stroke="#50506a" stroke-width="0.9" />
<line x1="709.40" y1="74.80" x2="714.50" y2="74.80" stroke="#A03030" stroke-width="0.95" />
<text x="686.00" y="82.20" font-family="Liberation Serif" font-size="3.2" fill="#3030C0" text-anchor="start"  stroke="#3030C0" stroke-width="0.15">c5x</text>
<line x1="652.80" y1="110.80" x2="652.80" y2="95.70" stroke="#3a3a3a" stroke-width="0.95" />
<line x1="652.80" y1="95.70" x2="652.80" y2="59.20" stroke="#2A2AA8" stroke-width="0.95" />
<line x1="652.80" y1="59.20" x2="652.80" y2="54.40" stroke="#A03030" stroke-width="0.95" />
<line x1="650.80" y1="54.40" x2="654.80" y2="54.40" stroke="#A03030" stroke-width="0.95" />
<text x="643.00" y="53.40" font-family="Liberation Serif" font-size="4.2" fill="#A03030" text-anchor="start"  stroke="#A03030" stroke-width="0.2">VDDA_3V3</text>
<text x="654.30" y="113.60" font-family="Liberation Serif" font-size="4.2" fill="#3a3420" text-anchor="end" transform="rotate(-90 654.30 113.60)"  stroke="#3a3420" stroke-width="0.2">VDDA</text>
<text x="651.50" y="107.50" font-family="Liberation Serif" font-size="3.4" fill="#3a3420" text-anchor="start" transform="rotate(-90 651.50 107.50)"  stroke="#3a3420" stroke-width="0.2">5</text>
<line x1="652.80" y1="59.20" x2="690.20" y2="59.20" stroke="#2A2AA8" stroke-width="0.95" />
<line x1="690.20" y1="55.70" x2="690.20" y2="62.70" stroke="#2222DD" stroke-width="1.1" />
<line x1="693.20" y1="55.70" x2="693.20" y2="62.70" stroke="#2222DD" stroke-width="1.1" />
<line x1="693.20" y1="59.20" x2="709.40" y2="59.20" stroke="#50506a" stroke-width="0.9" />
<line x1="709.40" y1="59.20" x2="714.50" y2="59.20" stroke="#A03030" stroke-width="0.95" />
<text x="686.00" y="66.60" font-family="Liberation Serif" font-size="3.2" fill="#3030C0" text-anchor="start"  stroke="#3030C0" stroke-width="0.15">c5x</text>
<circle cx="652.80" cy="74.80" r="0.9" fill="#1a1a90"/>
<circle cx="652.80" cy="90.20" r="0.9" fill="#1a1a90"/>
<circle cx="637.40" cy="90.20" r="0.9" fill="#1a1a90"/>
<circle cx="652.80" cy="59.20" r="0.9" fill="#1a1a90"/>
<circle cx="637.40" cy="74.80" r="0.9" fill="#1a1a90"/>
<circle cx="622.10" cy="90.20" r="0.9" fill="#1a1a90"/>
<polygon points="714.50,54.80 719.60,59.20 714.50,63.60" fill="none" stroke="#A03030" stroke-width="0.9" stroke-linejoin="miter"/>
<text x="721.20" y="60.60" font-family="Liberation Serif" font-size="4.2" fill="#A03030" text-anchor="start" textLength="28.30" lengthAdjust="spacingAndGlyphs"  stroke="#A03030" stroke-width="0.2">GND_ANALOG</text>
<line x1="714.60" y1="70.80" x2="714.60" y2="78.80" stroke="#A03030" stroke-width="1.0" />
<line x1="716.50" y1="72.10" x2="716.50" y2="77.50" stroke="#A03030" stroke-width="0.9" />
<line x1="718.30" y1="73.30" x2="718.30" y2="76.30" stroke="#A03030" stroke-width="0.9" />
<line x1="720.00" y1="74.30" x2="720.00" y2="75.30" stroke="#A03030" stroke-width="0.8" />
<line x1="714.60" y1="86.20" x2="714.60" y2="94.20" stroke="#A03030" stroke-width="1.0" />
<line x1="716.50" y1="87.50" x2="716.50" y2="92.90" stroke="#A03030" stroke-width="0.9" />
<line x1="718.30" y1="88.70" x2="718.30" y2="91.70" stroke="#A03030" stroke-width="0.9" />
<line x1="720.00" y1="89.70" x2="720.00" y2="90.70" stroke="#A03030" stroke-width="0.8" />
<text x="700.30" y="109.20" font-family="Liberation Serif" font-size="4.2" fill="#2828B0" text-anchor="start"  stroke="#2828B0" stroke-width="0.2">U9</text>
<text x="700.30" y="114.70" font-family="Liberation Serif" font-size="4.2" fill="#2828B0" text-anchor="start" textLength="27.00" lengthAdjust="spacingAndGlyphs"  stroke="#2828B0" stroke-width="0.2">SGTL5000_32p</text>
<line x1="637.50" y1="295.20" x2="637.50" y2="310.60" stroke="#3a3a3a" stroke-width="0.95" />
<text x="639.00" y="292.20" font-family="Liberation Serif" font-size="4.2" fill="#3a3420" text-anchor="start" transform="rotate(-90 639.00 292.20)"  stroke="#3a3420" stroke-width="0.2">CTRL_MODE</text>
<line x1="642.60" y1="295.20" x2="642.60" y2="310.60" stroke="#3a3a3a" stroke-width="0.95" />
<text x="644.10" y="292.20" font-family="Liberation Serif" font-size="4.2" fill="#3a3420" text-anchor="start" transform="rotate(-90 644.10 292.20)"  stroke="#3a3420" stroke-width="0.2">GND3/PAD</text>
<line x1="647.70" y1="295.20" x2="647.70" y2="310.60" stroke="#3a3a3a" stroke-width="0.95" />
<text x="649.20" y="292.20" font-family="Liberation Serif" font-size="4.2" fill="#3a3420" text-anchor="start" transform="rotate(-90 649.20 292.20)"  stroke="#3a3420" stroke-width="0.2">GND2</text>
<line x1="652.90" y1="295.20" x2="652.90" y2="310.60" stroke="#3a3a3a" stroke-width="0.95" />
<text x="654.40" y="292.20" font-family="Liberation Serif" font-size="4.2" fill="#3a3420" text-anchor="start" transform="rotate(-90 654.40 292.20)"  stroke="#3a3420" stroke-width="0.2">GND1</text>
<line x1="663.20" y1="295.20" x2="663.20" y2="310.60" stroke="#3a3a3a" stroke-width="0.95" />
<text x="664.70" y="292.20" font-family="Liberation Serif" font-size="4.2" fill="#3a3420" text-anchor="start" transform="rotate(-90 664.70 292.20)"  stroke="#3a3420" stroke-width="0.2">AGND</text>
<text x="636.00" y="302.50" font-family="Liberation Serif" font-size="3.4" fill="#3a3420" text-anchor="start" transform="rotate(-90 636.00 302.50)"  stroke="#3a3420" stroke-width="0.2">32</text>
<text x="641.20" y="302.50" font-family="Liberation Serif" font-size="3.4" fill="#3a3420" text-anchor="start" transform="rotate(-90 641.20 302.50)"  stroke="#3a3420" stroke-width="0.2">33</text>
<text x="660.80" y="302.50" font-family="Liberation Serif" font-size="3.4" fill="#3a3420" text-anchor="start" transform="rotate(-90 660.80 302.50)"  stroke="#3a3420" stroke-width="0.2">7</text>
<polyline points="652.9,310.7 596.8,310.7 596.8,315" fill="none" stroke="#2A2AA8" stroke-width="0.95"/>
<circle cx="637.50" cy="310.70" r="0.8" fill="#1a1a90"/>
<circle cx="642.60" cy="310.70" r="0.8" fill="#1a1a90"/>
<circle cx="647.70" cy="310.70" r="0.8" fill="#1a1a90"/>
<line x1="591.80" y1="315.40" x2="602.00" y2="315.40" stroke="#A03030" stroke-width="1.2" />
<line x1="593.40" y1="317.10" x2="600.40" y2="317.10" stroke="#A03030" stroke-width="1.1" />
<line x1="595.00" y1="318.80" x2="598.80" y2="318.80" stroke="#A03030" stroke-width="1.1" />
<line x1="596.20" y1="320.40" x2="597.60" y2="320.40" stroke="#A03030" stroke-width="1.0" />
<polyline points="663.2,310.4 678.8,310.4 678.8,316" fill="none" stroke="#2A2AA8" stroke-width="0.95"/>
<polygon points="673.90,316.00 683.90,316.00 678.90,321.00" fill="none" stroke="#A03030" stroke-width="0.9" stroke-linejoin="miter"/>
<text x="664.30" y="324.70" font-family="Liberation Serif" font-size="4.2" fill="#A03030" text-anchor="start" textLength="29.00" lengthAdjust="spacingAndGlyphs"  stroke="#A03030" stroke-width="0.2">GND_ANALOG</text>
<polyline points="699.3,264.44 709.4,264.44 709.4,290.5" fill="none" stroke="#2A2AA8" stroke-width="0.95"/>
<line x1="709.40" y1="290.50" x2="709.40" y2="295.20" stroke="#A03030" stroke-width="0.95" />
<line x1="706.60" y1="295.20" x2="712.20" y2="295.20" stroke="#A03030" stroke-width="0.95" />
<text x="697.20" y="299.60" font-family="Liberation Serif" font-size="4.2" fill="#A03030" text-anchor="start" textLength="24.80" lengthAdjust="spacingAndGlyphs"  stroke="#A03030" stroke-width="0.2">VDDIO_AUD</text>
<text x="689.10" y="304.70" font-family="Liberation Serif" font-size="3.9" fill="#F02828" text-anchor="start" textLength="38.90" lengthAdjust="spacingAndGlyphs"  stroke="#F02828" stroke-width="0.2">address is 0x0101010(R/W)</text>
<text x="689.10" y="309.60" font-family="Liberation Serif" font-size="3.9" fill="#F02828" text-anchor="start" textLength="58.10" lengthAdjust="spacingAndGlyphs"  stroke="#F02828" stroke-width="0.2">address is 0101010(R/W) New Add</text>
<polygon points="499.10,223.52 501.70,220.97 532.30,220.97 534.90,223.52 532.30,226.07 501.70,226.07" fill="#FBEC62" stroke="#B07838" stroke-width="0.8" stroke-linejoin="miter"/>
<text x="512.30" y="224.97" font-family="Liberation Serif" font-size="4.3" fill="#8C7838" text-anchor="start" textLength="17.20" lengthAdjust="spacingAndGlyphs"  stroke="#8C7838" stroke-width="0.25">I2C3_SDA</text>
<polygon points="499.10,228.63 501.70,226.08 532.30,226.08 534.90,228.63 532.30,231.19 501.70,231.19" fill="#FBEC62" stroke="#B07838" stroke-width="0.8" stroke-linejoin="miter"/>
<text x="512.30" y="230.08" font-family="Liberation Serif" font-size="4.3" fill="#8C7838" text-anchor="start" textLength="16.80" lengthAdjust="spacingAndGlyphs"  stroke="#8C7838" stroke-width="0.25">I2C3_SCL</text>
<polygon points="514.70,243.98 517.30,241.43 550.50,241.43 550.50,246.53 517.30,246.53" fill="#FBEC62" stroke="#B07838" stroke-width="0.8" stroke-linejoin="miter"/>
<text x="523.60" y="245.43" font-family="Liberation Serif" font-size="4.3" fill="#8C7838" text-anchor="start" textLength="22.00" lengthAdjust="spacingAndGlyphs"  stroke="#8C7838" stroke-width="0.25">AUD5_RXD</text>
<polygon points="514.70,246.54 547.90,246.54 550.50,249.09 547.90,251.65 514.70,251.65" fill="#FBEC62" stroke="#B07838" stroke-width="0.8" stroke-linejoin="miter"/>
<text x="523.60" y="250.54" font-family="Liberation Serif" font-size="4.3" fill="#8C7838" text-anchor="start" textLength="21.50" lengthAdjust="spacingAndGlyphs"  stroke="#8C7838" stroke-width="0.25">AUD5_TXD</text>
<polygon points="514.70,251.66 547.90,251.66 550.50,254.21 547.90,256.76 514.70,256.76" fill="#FBEC62" stroke="#B07838" stroke-width="0.8" stroke-linejoin="miter"/>
<text x="522.80" y="255.66" font-family="Liberation Serif" font-size="4.3" fill="#8C7838" text-anchor="start" textLength="22.80" lengthAdjust="spacingAndGlyphs"  stroke="#8C7838" stroke-width="0.25">AUD5_TXFS</text>
<polygon points="514.70,256.77 547.90,256.77 550.50,259.32 547.90,261.88 514.70,261.88" fill="#FBEC62" stroke="#B07838" stroke-width="0.8" stroke-linejoin="miter"/>
<text x="523.60" y="260.77" font-family="Liberation Serif" font-size="4.3" fill="#8C7838" text-anchor="start" textLength="21.50" lengthAdjust="spacingAndGlyphs"  stroke="#8C7838" stroke-width="0.25">AUD5_TXC</text>
<polygon points="473.40,267.00 506.60,267.00 509.20,269.56 506.60,272.11 473.40,272.11" fill="#FBEC62" stroke="#B07838" stroke-width="0.8" stroke-linejoin="miter"/>
<text x="476.50" y="271.00" font-family="Liberation Serif" font-size="4.3" fill="#8C7838" text-anchor="start" textLength="28.50" lengthAdjust="spacingAndGlyphs"  stroke="#8C7838" stroke-width="0.25">AUD_M_CLKO</text>
<line x1="534.90" y1="223.52" x2="576.50" y2="223.52" stroke="#2A2AA8" stroke-width="0.95" />
<line x1="534.90" y1="228.63" x2="576.50" y2="228.63" stroke="#2A2AA8" stroke-width="0.95" />
<line x1="550.50" y1="243.98" x2="576.50" y2="243.98" stroke="#2A2AA8" stroke-width="0.95" />
<line x1="550.50" y1="249.09" x2="576.50" y2="249.09" stroke="#2A2AA8" stroke-width="0.95" />
<line x1="550.50" y1="254.21" x2="576.50" y2="254.21" stroke="#2A2AA8" stroke-width="0.95" />
<line x1="550.50" y1="259.32" x2="576.50" y2="259.32" stroke="#2A2AA8" stroke-width="0.95" />
<line x1="509.20" y1="269.56" x2="536.20" y2="269.56" stroke="#2A2AA8" stroke-width="0.95" />
<line x1="536.20" y1="269.56" x2="540.00" y2="269.56" stroke="#1a1a1a" stroke-width="0.95" />
<polyline points="540,269.56 541.3,271.06 545,268.06 548.3,271.06 551.5,268.06 554.7,271.06 556,269.56" fill="none" stroke="#2222EE" stroke-width="1.0"/>
<line x1="556.00" y1="269.56" x2="560.40" y2="269.56" stroke="#1a1a1a" stroke-width="0.95" />
<line x1="560.40" y1="269.56" x2="576.50" y2="269.56" stroke="#2A2AA8" stroke-width="0.95" />
<text x="545.50" y="266.16" font-family="Liberation Sans" font-size="2.8" fill="#3030C0" text-anchor="start" >R0x</text>
<text x="541.80" y="274.75" font-family="Liberation Sans" font-size="2.8" fill="#3030C0" text-anchor="start" >0</text>
<text x="545.60" y="222.62" font-family="Liberation Sans" font-size="2.9" fill="#8A3038" text-anchor="start"  stroke="#8A3038" stroke-width="0.12">I2C3_SDA</text>
<text x="545.60" y="227.73" font-family="Liberation Sans" font-size="2.9" fill="#8A3038" text-anchor="start"  stroke="#8A3038" stroke-width="0.12">I2C3_SCL</text>
<text x="560.60" y="243.18" font-family="Liberation Sans" font-size="2.6" fill="#A07870" text-anchor="start" >AUD5_RXD</text>
<text x="560.60" y="248.29" font-family="Liberation Sans" font-size="2.6" fill="#A07870" text-anchor="start" >AUD5_TXD</text>
<text x="560.60" y="253.41" font-family="Liberation Sans" font-size="2.6" fill="#A07870" text-anchor="start" >AUD5_TXFS</text>
<text x="560.60" y="258.52" font-family="Liberation Sans" font-size="2.6" fill="#A07870" text-anchor="start" >AUD5_TXC</text>
<text x="514.70" y="268.66" font-family="Liberation Sans" font-size="2.6" fill="#A07870" text-anchor="start" >AUD_M_CLKO</text>
<text x="560.60" y="268.66" font-family="Liberation Sans" font-size="2.4" fill="#A07870" text-anchor="start" >AUD_EXT_MCLK</text>
<line x1="699.30" y1="182.60" x2="792.40" y2="182.60" stroke="#2A2AA8" stroke-width="0.95" />
<line x1="792.40" y1="182.60" x2="798.20" y2="182.60" stroke="#1a1a1a" stroke-width="0.95" />
<rect x="798.20" y="179.10" width="12.2" height="7" rx="2.2" ry="2.2" fill="#E8F0FF" stroke="#2828D8" stroke-width="1.0"/>
<line x1="800.80" y1="179.10" x2="800.80" y2="186.10" stroke="#2828D8" stroke-width="0.6" />
<line x1="807.80" y1="179.10" x2="807.80" y2="186.10" stroke="#2828D8" stroke-width="0.6" />
<line x1="810.40" y1="182.60" x2="816.20" y2="182.60" stroke="#1a1a1a" stroke-width="0.95" />
<line x1="816.20" y1="182.60" x2="847.90" y2="182.60" stroke="#2A2AA8" stroke-width="0.95" />
<line x1="699.30" y1="192.83" x2="792.40" y2="192.83" stroke="#2A2AA8" stroke-width="0.95" />
<line x1="792.40" y1="192.83" x2="798.20" y2="192.83" stroke="#1a1a1a" stroke-width="0.95" />
<rect x="798.20" y="189.33" width="12.2" height="7" rx="2.2" ry="2.2" fill="#E8F0FF" stroke="#2828D8" stroke-width="1.0"/>
<line x1="800.80" y1="189.33" x2="800.80" y2="196.33" stroke="#2828D8" stroke-width="0.6" />
<line x1="807.80" y1="189.33" x2="807.80" y2="196.33" stroke="#2828D8" stroke-width="0.6" />
<line x1="810.40" y1="192.83" x2="816.20" y2="192.83" stroke="#1a1a1a" stroke-width="0.95" />
<polyline points="816.2,192.83 868.4,192.83 868.4,250" fill="none" stroke="#2A2AA8" stroke-width="0.95"/>
<polyline points="699.3,208.18 776.1,208.18 776.1,239 794.6,239" fill="none" stroke="#2A2AA8" stroke-width="0.95"/>
<line x1="794.60" y1="239.00" x2="800.40" y2="239.00" stroke="#1a1a1a" stroke-width="0.95" />
<rect x="800.40" y="235.50" width="12.2" height="7" rx="2.2" ry="2.2" fill="#E8F0FF" stroke="#2828D8" stroke-width="1.0"/>
<line x1="803.00" y1="235.50" x2="803.00" y2="242.50" stroke="#2828D8" stroke-width="0.6" />
<line x1="810.00" y1="235.50" x2="810.00" y2="242.50" stroke="#2828D8" stroke-width="0.6" />
<line x1="812.60" y1="239.00" x2="818.40" y2="239.00" stroke="#1a1a1a" stroke-width="0.95" />
<polyline points="818.4,239 898.7,239 898.7,141.4 909.3,141.4" fill="none" stroke="#2A2AA8" stroke-width="0.95"/>
<polyline points="699.3,213.29 750.3,213.29 750.3,244.6" fill="none" stroke="#2A2AA8" stroke-width="0.95"/>
<line x1="746.50" y1="244.80" x2="754.20" y2="244.80" stroke="#2222DD" stroke-width="1.1" />
<line x1="746.50" y1="247.60" x2="754.20" y2="247.60" stroke="#2222DD" stroke-width="1.1" />
<polyline points="750.3,247.8 750.3,284.6" fill="none" stroke="#2A2AA8" stroke-width="0.95"/>
<line x1="750.30" y1="279.80" x2="886.70" y2="279.80" stroke="#2A2AA8" stroke-width="0.95" />
<polygon points="745.30,284.60 755.30,284.60 750.30,289.80" fill="none" stroke="#A03030" stroke-width="0.9" stroke-linejoin="miter"/>
<text x="737.10" y="294.40" font-family="Liberation Serif" font-size="4.2" fill="#A03030" text-anchor="start" textLength="29.00" lengthAdjust="spacingAndGlyphs"  stroke="#A03030" stroke-width="0.2">GND_ANALOG</text>
<text x="745.20" y="247.50" font-family="Liberation Sans" font-size="2.8" fill="#3030C0" text-anchor="start" transform="rotate(-90 745.20 247.50)" >C5x</text>
<text x="758.50" y="250.50" font-family="Liberation Sans" font-size="2.6" fill="#3030C0" text-anchor="start" transform="rotate(-90 758.50 250.50)" >0.1u</text>
<polyline points="909.3,131.2 837.4,131.2 837.4,192.83" fill="none" stroke="#2A2AA8" stroke-width="0.95"/>
<polyline points="909.3,151.4 847.9,151.4 847.9,250" fill="none" stroke="#2A2AA8" stroke-width="0.95"/>
<line x1="886.70" y1="239.00" x2="886.70" y2="250.00" stroke="#2A2AA8" stroke-width="0.95" />
<line x1="909.30" y1="131.20" x2="924.30" y2="131.20" stroke="#1a1a1a" stroke-width="0.95" />
<line x1="909.30" y1="141.40" x2="924.30" y2="141.40" stroke="#1a1a1a" stroke-width="0.95" />
<line x1="909.30" y1="151.40" x2="924.30" y2="151.40" stroke="#1a1a1a" stroke-width="0.95" />
<rect x="924.30" y="121.00" width="31.40" height="41.40" fill="#C9E9EA" stroke="#5A3CB0" stroke-width="1.1"/>
<text x="918.60" y="130.10" font-family="Liberation Serif" font-size="3.4" fill="#3a3420" text-anchor="start"  stroke="#3a3420" stroke-width="0.2">3</text>
<text x="918.60" y="140.30" font-family="Liberation Serif" font-size="3.4" fill="#3a3420" text-anchor="start"  stroke="#3a3420" stroke-width="0.2">2</text>
<text x="918.60" y="150.30" font-family="Liberation Serif" font-size="3.4" fill="#3a3420" text-anchor="start"  stroke="#3a3420" stroke-width="0.2">1</text>
<text x="917.50" y="166.40" font-family="Liberation Sans" font-size="3.8" fill="#3838C0" text-anchor="start" font-style="italic">J5x</text>
<circle cx="847.90" cy="182.60" r="0.9" fill="#1a1a90"/>
<circle cx="837.40" cy="192.83" r="0.9" fill="#1a1a90"/>
<circle cx="886.70" cy="239.00" r="0.9" fill="#1a1a90"/>
<circle cx="847.90" cy="279.80" r="0.8" fill="#1a1a90"/>
<circle cx="868.40" cy="279.80" r="0.8" fill="#1a1a90"/>
<line x1="847.90" y1="250.00" x2="847.90" y2="255.80" stroke="#303050" stroke-width="0.95" />
<polygon points="844.30,255.80 851.50,255.80 847.90,263.00" fill="#B4B4B8" stroke="#2222EE" stroke-width="1.1" stroke-linejoin="miter"/>
<polygon points="844.30,270.30 851.50,270.30 847.90,263.00" fill="#B4B4B8" stroke="#2222EE" stroke-width="1.1" stroke-linejoin="miter"/>
<polyline points="843.10,264.6 843.90,263 851.90,263 852.70,261.4" fill="none" stroke="#2222EE" stroke-width="0.9"/>
<line x1="847.90" y1="270.30" x2="847.90" y2="275.00" stroke="#303050" stroke-width="0.95" />
<line x1="847.90" y1="275.00" x2="847.90" y2="279.80" stroke="#2A2AA8" stroke-width="0.95" />
<text x="838.80" y="268.20" font-family="Liberation Sans" font-size="5.0" fill="#3C3CC8" text-anchor="start" transform="rotate(-90 838.80 268.20)" textLength="12.20" lengthAdjust="spacingAndGlyphs"  stroke="#3C3CC8" stroke-width="0.15">ESD1</text>
<line x1="868.40" y1="250.00" x2="868.40" y2="255.80" stroke="#303050" stroke-width="0.95" />
<polygon points="864.80,255.80 872.00,255.80 868.40,263.00" fill="#B4B4B8" stroke="#2222EE" stroke-width="1.1" stroke-linejoin="miter"/>
<polygon points="864.80,270.30 872.00,270.30 868.40,263.00" fill="#B4B4B8" stroke="#2222EE" stroke-width="1.1" stroke-linejoin="miter"/>
<polyline points="863.60,264.6 864.40,263 872.40,263 873.20,261.4" fill="none" stroke="#2222EE" stroke-width="0.9"/>
<line x1="868.40" y1="270.30" x2="868.40" y2="275.00" stroke="#303050" stroke-width="0.95" />
<line x1="868.40" y1="275.00" x2="868.40" y2="279.80" stroke="#2A2AA8" stroke-width="0.95" />
<text x="859.30" y="268.20" font-family="Liberation Sans" font-size="5.0" fill="#3C3CC8" text-anchor="start" transform="rotate(-90 859.30 268.20)" textLength="12.20" lengthAdjust="spacingAndGlyphs"  stroke="#3C3CC8" stroke-width="0.15">ESD2</text>
<line x1="886.70" y1="250.00" x2="886.70" y2="255.80" stroke="#303050" stroke-width="0.95" />
<polygon points="883.10,255.80 890.30,255.80 886.70,263.00" fill="#B4B4B8" stroke="#2222EE" stroke-width="1.1" stroke-linejoin="miter"/>
<polygon points="883.10,270.30 890.30,270.30 886.70,263.00" fill="#B4B4B8" stroke="#2222EE" stroke-width="1.1" stroke-linejoin="miter"/>
<polyline points="881.90,264.6 882.70,263 890.70,263 891.50,261.4" fill="none" stroke="#2222EE" stroke-width="0.9"/>
<line x1="886.70" y1="270.30" x2="886.70" y2="275.00" stroke="#303050" stroke-width="0.95" />
<line x1="886.70" y1="275.00" x2="886.70" y2="279.80" stroke="#2A2AA8" stroke-width="0.95" />
<text x="877.60" y="268.20" font-family="Liberation Sans" font-size="5.0" fill="#3C3CC8" text-anchor="start" transform="rotate(-90 877.60 268.20)" textLength="12.20" lengthAdjust="spacingAndGlyphs"  stroke="#3C3CC8" stroke-width="0.15">ESD3</text>
<text x="714.00" y="181.70" font-family="Liberation Sans" font-size="2.6" fill="#B83030" text-anchor="start" >HP_L</text>
<text x="714.00" y="191.93" font-family="Liberation Sans" font-size="2.6" fill="#B83030" text-anchor="start" >HP_R</text>
<text x="714.00" y="207.28" font-family="Liberation Sans" font-size="2.6" fill="#B83030" text-anchor="start" >HP_VGND</text>
<text x="817.00" y="181.70" font-family="Liberation Sans" font-size="2.6" fill="#B83030" text-anchor="start" >H_HPLOUT</text>
<text x="817.00" y="191.93" font-family="Liberation Sans" font-size="2.6" fill="#B83030" text-anchor="start" >H_HPROUT</text>
<text x="827.30" y="238.00" font-family="Liberation Sans" font-size="2.5" fill="#B83030" text-anchor="start" >HP_VGND_OUT</text>
<text x="792.60" y="177.20" font-family="Liberation Sans" font-size="3.2" fill="#3838C0" text-anchor="start" font-style="italic">FB7</text>
<text x="802.00" y="203.00" font-family="Liberation Sans" font-size="3.2" fill="#3838C0" text-anchor="start" font-style="italic">FB6</text>
<text x="794.60" y="233.60" font-family="Liberation Sans" font-size="3.2" fill="#3838C0" text-anchor="start" font-style="italic">FB8</text>
</svg>
</body></html>
